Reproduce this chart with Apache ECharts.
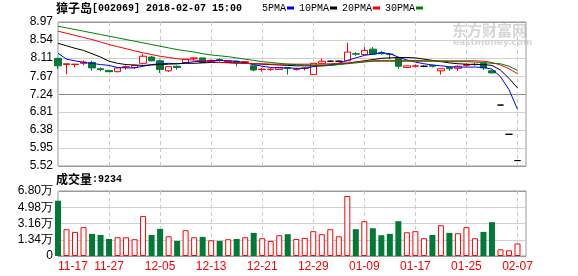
<!DOCTYPE html>
<html>
<head>
<meta charset="utf-8">
<script src="https://cdn.jsdelivr.net/npm/echarts@6.0.0/dist/echarts.min.js"></script>
<style>
    html, body { margin: 0; padding: 0; background: #fff; }
    #main { width: 578px; height: 276px; }
</style>
</head>
<body>
<div id="main"></div>
<script>
// 交易日期
var dates = ['11-17', '11-20', '11-21', '11-22', '11-23', '11-24', '11-27', '11-28', '11-29', '11-30',
    '12-01', '12-04', '12-05', '12-06', '12-07', '12-08', '12-11', '12-12', '12-13', '12-14',
    '12-15', '12-18', '12-19', '12-20', '12-21', '12-22', '12-25', '12-26', '12-27', '12-28',
    '12-29', '01-02', '01-03', '01-04', '01-05', '01-08', '01-09', '01-10', '01-11', '01-12',
    '01-15', '01-16', '01-17', '01-18', '01-19', '01-22', '01-23', '01-24', '01-25', '01-26',
    '01-29', '01-30', '02-05', '02-06', '02-07'];

// K线 [开, 收, 低, 高]
var kData = [
    [8.10, 7.92, 7.84, 8.11], [7.95, 7.97, 7.72, 7.97], [7.95, 7.96, 7.88, 7.97], [7.98, 8.01, 7.93, 8.05],
    [8.00, 7.87, 7.80, 8.04], [7.85, 7.83, 7.79, 7.88], [7.81, 7.78, 7.77, 7.82], [7.78, 7.87, 7.76, 7.87],
    [7.89, 7.90, 7.83, 7.93], [7.88, 7.93, 7.85, 7.95], [7.98, 8.15, 7.96, 8.20], [8.13, 8.04, 8.03, 8.16],
    [8.04, 7.83, 7.75, 8.07], [7.80, 7.90, 7.77, 7.91], [7.91, 7.88, 7.83, 7.93], [8.00, 8.08, 7.99, 8.08],
    [8.10, 8.11, 8.05, 8.12], [8.11, 8.00, 7.99, 8.11], [8.03, 8.05, 8.00, 8.07], [8.07, 8.05, 8.02, 8.10],
    [8.02, 8.04, 8.00, 8.06], [8.03, 8.01, 7.91, 8.04], [8.00, 8.02, 7.98, 8.03], [7.92, 7.82, 7.79, 7.92],
    [7.83, 7.84, 7.78, 7.87], [7.83, 7.84, 7.80, 7.86], [7.83, 7.88, 7.82, 7.89], [7.88, 7.86, 7.71, 7.88],
    [7.83, 7.84, 7.81, 7.87], [7.86, 7.87, 7.81, 7.89], [7.71, 7.98, 7.70, 7.99], [7.98, 8.03, 7.98, 8.10],
    [8.03, 8.03, 8.01, 8.05], [8.03, 8.03, 8.02, 8.05], [8.04, 8.25, 8.04, 8.47], [8.21, 8.20, 8.16, 8.25],
    [8.19, 8.29, 8.18, 8.37], [8.32, 8.20, 8.18, 8.37], [8.24, 8.21, 8.19, 8.28], [8.20, 8.19, 8.08, 8.22],
    [8.12, 7.91, 7.85, 8.12], [7.88, 7.92, 7.88, 7.92], [7.91, 7.92, 7.88, 7.95], [7.91, 7.91, 7.89, 7.93],
    [7.93, 7.91, 7.88, 7.95], [7.80, 7.85, 7.71, 7.85], [7.88, 7.85, 7.80, 7.88], [7.86, 7.91, 7.80, 7.93],
    [7.93, 7.95, 7.90, 7.98], [7.95, 7.96, 7.92, 7.99], [7.98, 7.87, 7.82, 7.99], [7.80, 7.75, 7.74, 7.81],
    [6.98, 6.98, 6.98, 6.98], [6.28, 6.28, 6.28, 6.28], [5.65, 5.65, 5.65, 5.65]
];

// 均线
var ma5 = [8.22, 8.08, 8.04, 8.00, 7.98, 7.95, 7.93, 7.88, 7.87, 7.87,
    7.91, 7.95, 7.97, 7.98, 7.97, 7.99, 8.02, 8.03, 8.04, 8.05,
    8.04, 8.03, 7.99, 7.95, 7.91, 7.88, 7.87, 7.87, 7.86, 7.86,
    7.90, 7.93, 7.95, 7.98, 8.05, 8.11, 8.17, 8.20, 8.23, 8.21,
    8.13, 8.06, 8.01, 7.97, 7.94, 7.92, 7.90, 7.89, 7.89, 7.89,
    7.88, 7.84, 7.66, 7.35, 6.88];
var ma10 = [8.46, 8.40, 8.34, 8.29, 8.21, 8.13, 8.03, 7.98, 7.95, 7.94,
    7.93, 7.94, 7.95, 7.96, 7.97, 7.98, 7.98, 7.99, 8.00, 8.00,
    8.00, 7.99, 7.98, 7.97, 7.96, 7.95, 7.94, 7.93, 7.92, 7.92,
    7.92, 7.92, 7.93, 7.96, 7.98, 8.01, 8.04, 8.07, 8.10, 8.11,
    8.12, 8.12, 8.11, 8.08, 8.05, 8.02, 7.99, 7.97, 7.96, 7.95,
    7.95, 7.93, 7.82, 7.62, 7.39];
var ma20 = [8.75, 8.70, 8.65, 8.60, 8.55, 8.49, 8.43, 8.38, 8.33, 8.28,
    8.23, 8.19, 8.15, 8.12, 8.09, 8.07, 8.06, 8.04, 8.02, 8.00,
    7.99, 7.98, 7.98, 7.97, 7.97, 7.96, 7.96, 7.96, 7.96, 7.96,
    7.96, 7.96, 7.97, 7.98, 7.99, 8.01, 8.03, 8.04, 8.05, 8.05,
    8.05, 8.05, 8.05, 8.04, 8.04, 8.04, 8.04, 8.04, 8.04, 8.04,
    8.03, 8.00, 7.94, 7.85, 7.73];
var ma30 = [8.87, 8.83, 8.79, 8.75, 8.71, 8.67, 8.63, 8.59, 8.55, 8.51,
    8.47, 8.43, 8.39, 8.35, 8.31, 8.28, 8.25, 8.21, 8.18, 8.16,
    8.14, 8.11, 8.08, 8.05, 8.02, 8.00, 7.98, 7.96, 7.95, 7.94,
    7.93, 7.92, 7.93, 7.95, 7.97, 7.99, 8.01, 8.03, 8.03, 8.03,
    8.03, 8.03, 8.03, 8.03, 8.03, 8.03, 8.02, 8.02, 8.02, 8.01,
    8.00, 7.98, 7.97, 7.91, 7.81];

// 成交量(万)
var volumes = [5.71, 2.52, 2.22, 2.75, 2.00, 1.88, 1.43, 1.62, 1.62, 1.40,
    3.99, 1.88, 2.56, 1.73, 1.21, 2.41, 1.62, 1.66, 1.28, 1.21,
    1.40, 1.43, 1.62, 2.11, 1.51, 1.21, 1.85, 1.96, 1.43, 1.55,
    2.30, 1.96, 2.52, 1.73, 6.24, 2.52, 3.42, 2.63, 1.85, 2.00,
    3.42, 2.18, 2.30, 1.51, 1.88, 2.97, 2.11, 2.07, 2.75, 1.51,
    2.22, 3.31, 0.27, 0.16, 0.9234];

// 刻度
var priceTicks = [5.52, 5.95, 6.38, 6.81, 7.24, 7.67, 8.11, 8.54, 8.97];
var volTicks = [-0.48, 1.34, 3.16, 4.98, 6.80];
var volTickLabels = ['0', '1.34万', '3.16万', '4.98万', '6.80万'];

var RED = '#ff0000';
var GREEN = '#007a35';
var NUM_FONT = '"Liberation Sans", Arial, sans-serif';
var MONO_FONT = '"Liberation Mono", "DejaVu Sans Mono", monospace';
var CJK_FONT = '"Noto Sans CJK SC", sans-serif';

var chart = echarts.init(document.getElementById('main'), null, { renderer: 'canvas' });

// 阳线量柱空心红, 阴线量柱实心绿
var volData = volumes.map(function(v, i) {
    var up = kData[i][1] >= kData[i][0];
    return {
        value: v,
        itemStyle: up ? { color: '#fff', borderColor: RED, borderWidth: 1 } : { color: GREEN }
    };
});

function maSeries(name, data, color) {
    return {
        name: name,
        type: 'line',
        xAxisIndex: 0,
        yAxisIndex: 0,
        data: data,
        showSymbol: false,
        symbol: 'none',
        smooth: false,
        lineStyle: { width: 1, color: color },
        itemStyle: { color: color },
        emphasis: { disabled: true },
        silent: true
    };
}

var dashed = { color: '#cccccc', type: [4, 3], width: 1 };

var option = {
    animation: false,
    backgroundColor: '#fff',
    title: [{
        text: '{c|獐子岛}{a|[002069] 2018-02-07 15:00}',
        left: 56,
        top: 2,
        padding: 0,
        textStyle: {
            rich: {
                c: { fontFamily: CJK_FONT, fontSize: 12, color: '#000' },
                a: { fontFamily: MONO_FONT, fontSize: 10, color: '#000' }
            }
        }
    }, {
        text: '{c|成交量}{a|:9234}',
        left: 56,
        top: 173,
        padding: 0,
        textStyle: {
            rich: {
                c: { fontFamily: CJK_FONT, fontSize: 12, color: '#000' },
                a: { fontFamily: MONO_FONT, fontSize: 10, color: '#000' }
            }
        }
    }],
    legend: {
        left: 262,
        top: 3,
        padding: 0,
        icon: 'rect',
        itemWidth: 7,
        itemHeight: 3,
        itemGap: 5,
        align: 'right',
        selectedMode: false,
        textStyle: { fontFamily: MONO_FONT, fontSize: 10, color: '#000', padding: [0, -4, 0, 0] },
        data: ['5PMA', '10PMA', '20PMA', '30PMA']
    },
    graphic: [{
        type: 'text',
        left: 452,
        top: 23,
        z: -1,
        style: { text: '东方财富网', font: 'bold 15px "Noto Sans CJK SC"', fill: '#d6d6d6' }
    }, {
        type: 'text',
        left: 453,
        top: 38,
        z: -1,
        style: { text: 'eastmoney.com', font: 'bold 9px "DejaVu Sans"', fill: '#d6d6d6' }
    }],
    grid: [{
        left: 58, top: 22, width: 468, height: 144,
        show: true, borderColor: '#999', borderWidth: 1, backgroundColor: 'transparent',
        outerBoundsMode: 'none', containLabel: false
    }, {
        left: 58, top: 191, width: 468, height: 65,
        show: true, borderColor: '#999', borderWidth: 1, backgroundColor: 'transparent',
        outerBoundsMode: 'none', containLabel: false
    }],
    xAxis: [{
        type: 'category',
        gridIndex: 0,
        data: dates,
        boundaryGap: false,
        max: dates.length,
        axisLine: { show: false },
        axisTick: { show: false },
        axisLabel: { show: false },
        splitLine: {
            show: true,
            interval: function(index) { return index % 6 === 0; },
            lineStyle: dashed
        }
    }, {
        type: 'category',
        gridIndex: 1,
        data: dates,
        boundaryGap: false,
        max: dates.length,
        axisLine: { show: false },
        axisTick: { show: false },
        axisLabel: {
            show: true,
            interval: function(index) { return index % 6 === 0; },
            color: RED,
            fontFamily: NUM_FONT,
            fontSize: 12,
            margin: 5,
            alignMinLabel: 'left'
        },
        splitLine: {
            show: true,
            interval: function(index) { return index % 6 === 0; },
            lineStyle: dashed
        }
    }],
    yAxis: [{
        type: 'value',
        gridIndex: 0,
        min: priceTicks[0],
        max: priceTicks[priceTicks.length - 1],
        scale: true,
        axisLine: { show: false },
        axisTick: { show: false, customValues: priceTicks },
        axisLabel: {
            customValues: priceTicks,
            formatter: function(v) { return v.toFixed(2); },
            color: '#000',
            fontFamily: NUM_FONT,
            fontSize: 12,
            margin: 5
        },
        splitLine: {
            show: true,
            lineStyle: {
                color: ['#999', '#d0d0d0', '#d0d0d0', '#d0d0d0', '#888', '#d0d0d0', '#d0d0d0', '#d0d0d0', '#999'],
                width: 1
            }
        }
    }, {
        type: 'value',
        gridIndex: 1,
        min: volTicks[0],
        max: volTicks[volTicks.length - 1],
        startValue: volTicks[0],
        axisLine: { show: false },
        axisTick: { show: false, customValues: volTicks },
        axisLabel: {
            customValues: volTicks,
            formatter: function(v) {
                var i = volTicks.indexOf(v);
                return i >= 0 ? volTickLabels[i] : '';
            },
            color: '#000',
            fontFamily: NUM_FONT,
            fontSize: 12,
            margin: 5
        },
        splitLine: {
            show: true,
            lineStyle: { color: ['#999', '#d0d0d0', '#d0d0d0', '#d0d0d0', '#999'], width: 1 }
        }
    }],
    series: [{
        name: 'K',
        type: 'candlestick',
        xAxisIndex: 0,
        yAxisIndex: 0,
        data: kData,
        barWidth: 7,
        clip: false,
        silent: true,
        itemStyle: {
            color: '#fff',
            color0: GREEN,
            borderColor: RED,
            borderColor0: GREEN,
            borderColorDoji: '#000',
            borderWidth: 1
        }
    },
        maSeries('5PMA', ma5, '#0000ff'),
        maSeries('10PMA', ma10, '#000000'),
        maSeries('20PMA', ma20, '#ff0000'),
        maSeries('30PMA', ma30, '#008000'),
    {
        name: 'VOL',
        type: 'bar',
        xAxisIndex: 1,
        yAxisIndex: 1,
        data: volData,
        barWidth: 6,
        silent: true
    }]
};

chart.setOption(option);
</script>
</body>
</html>
